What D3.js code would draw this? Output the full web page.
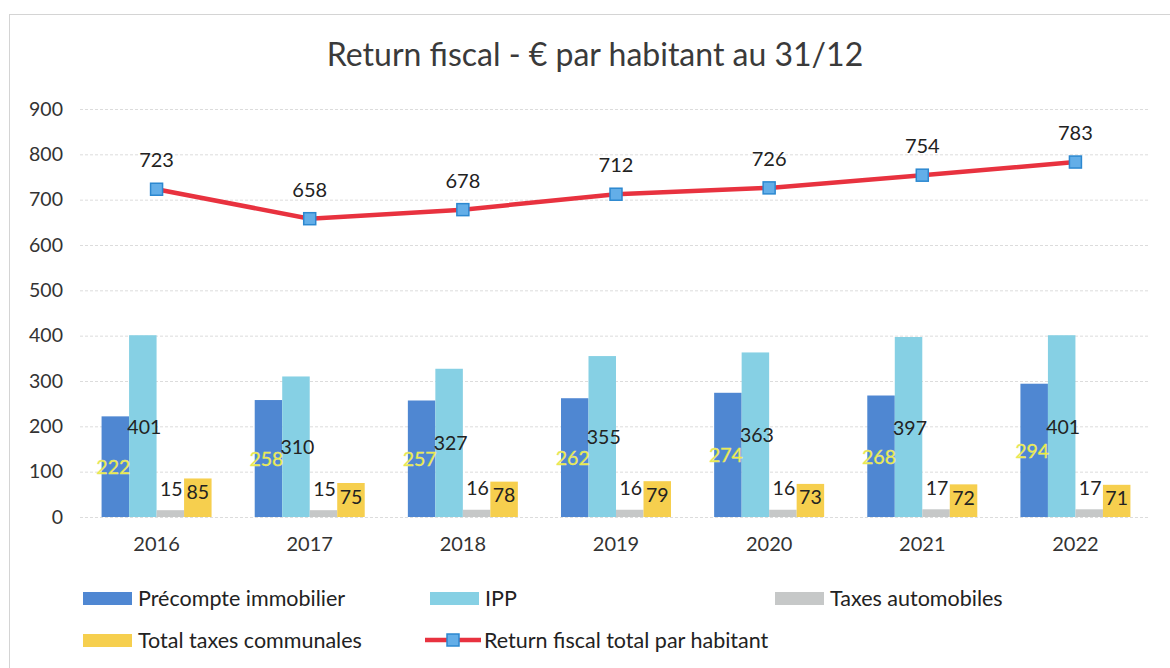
<!DOCTYPE html>
<html><head><meta charset="utf-8">
<script src="https://cdn.jsdelivr.net/npm/d3@7/dist/d3.min.js"></script>
<style>body{margin:0;background:#fff}svg{display:block;font-family:Lato,"Open Sans",sans-serif}</style>
</head><body><svg id="c" width="1170" height="668"></svg>
<script>
const years = ["2016","2017","2018","2019","2020","2021","2022"];
const precompte = [222,258,257,262,274,268,294];
const ipp = [401,310,327,355,363,397,401];
const taxesAuto = [15,15,16,16,16,17,17];
const totalTaxes = [85,75,78,79,73,72,71];
const returnTotal = [723,658,678,712,726,754,783];
const yTicks = [0,100,200,300,400,500,600,700,800,900];
const seriesNames = ["Précompte immobilier","IPP","Taxes automobiles","Total taxes communales"];
const lineName = "Return fiscal total par habitant";
const title = "Return fiscal - € par habitant au 31/12";

const colors = ["#4f87d2","#86d0e4","#c6c8c8","#f6cf4e"];
const svg = d3.select("#c");
// frame
svg.append("rect").attr("x",9.5).attr("y",14.5).attr("width",1200).attr("height",700)
  .attr("fill","none").attr("stroke","#d4d4d4").attr("stroke-width",1);

const y = d3.scaleLinear().domain([0,900]).range([517,109]);
const x = d3.scaleBand().domain(years).range([80,1152]);
const groupW = 110;
const xs = d3.scaleBand().domain(d3.range(4)).range([0,groupW]);

// gridlines
svg.append("g").selectAll("line").data(yTicks).join("line")
  .attr("x1",80).attr("x2",1150).attr("y1",d=>y(d)+0.5).attr("y2",d=>y(d)+0.5)
  .attr("stroke","#dcdcdc").attr("stroke-dasharray","3,2");

// y axis labels
const yAxis = d3.axisLeft(y).tickValues(yTicks).tickSize(0).tickPadding(0);
const gy = svg.append("g").attr("transform","translate(63,0)").call(yAxis);
gy.select(".domain").remove();
gy.selectAll("text").attr("font-size",19.5).attr("fill","#333").attr("font-family","Lato");

// x axis labels
const xAxis = d3.axisBottom(x).tickSize(0).tickPadding(0);
const gx = svg.append("g").attr("transform","translate(0,537)").call(xAxis);
gx.select(".domain").remove();
gx.selectAll("text").attr("font-size",20).attr("fill","#333").attr("font-family","Lato");

const series = [precompte, ipp, taxesAuto, totalTaxes];
const gb = svg.append("g");
series.forEach((vals,si)=>{
  gb.selectAll(null).data(vals).join("rect")
    .attr("x",(d,i)=>x(years[i])+x.bandwidth()/2-groupW/2+xs(si))
    .attr("width",xs.bandwidth())
    .attr("y",d=>y(d)).attr("height",d=>y(0)-y(d))
    .attr("fill",colors[si]);
});
// bar labels
const cx = (i,si)=>x(years[i])+x.bandwidth()/2-groupW/2+xs(si)+xs.bandwidth()/2;
const lab = svg.append("g").attr("font-size",19.5).attr("text-anchor","middle").attr("dominant-baseline","central");
lab.selectAll(null).data(precompte).join("text")
  .attr("x",(d,i)=>cx(i,0)-2).attr("y",d=>(y(d)+y(0))/2)
  .attr("fill","#eeee38").attr("stroke","#e2e29a").attr("stroke-width",0.4).text(d=>d);
lab.selectAll(null).data(ipp).join("text")
  .attr("x",(d,i)=>cx(i,1)+1.5).attr("y",d=>(y(d)+y(0))/2)
  .attr("fill","#222").text(d=>d);
lab.selectAll(null).data(taxesAuto).join("text")
  .attr("x",(d,i)=>cx(i,2)+1).attr("y",d=>y(d)-22)
  .attr("fill","#222").text(d=>d);
lab.selectAll(null).data(totalTaxes).join("text")
  .attr("x",(d,i)=>cx(i,3)).attr("y",d=>y(d)+13)
  .attr("fill","#222").text(d=>d);

// line
const lc = (i)=>x(years[i])+x.bandwidth()/2;
svg.append("path").datum(returnTotal)
  .attr("d",d3.line().x((d,i)=>lc(i)).y(d=>y(d)))
  .attr("fill","none").attr("stroke","#e8323f").attr("stroke-width",4.5);
svg.append("g").selectAll("rect").data(returnTotal).join("rect")
  .attr("x",(d,i)=>lc(i)-6).attr("y",d=>y(d)-6).attr("width",12).attr("height",12)
  .attr("fill","#63aee8").attr("stroke","#2c88d0").attr("stroke-width",1.5);
lab.selectAll(null).data(returnTotal).join("text")
  .attr("x",(d,i)=>lc(i)).attr("y",d=>y(d)-30).attr("font-size",20).attr("fill","#222").text(d=>d);

// title
svg.append("text").attr("x",595).attr("y",66).attr("text-anchor","middle")
  .attr("font-size",32).attr("fill","#3a3a3a").text(title);

// legend
const leg = [
  {t:seriesNames[0],c:colors[0],x:83,y:598},
  {t:seriesNames[1],c:colors[1],x:430,y:598},
  {t:seriesNames[2],c:colors[2],x:775,y:598},
  {t:seriesNames[3],c:colors[3],x:83,y:640}
];
const lg = svg.append("g");
leg.forEach(l=>{
  lg.append("rect").attr("x",l.x).attr("y",l.y-6).attr("width",49).attr("height",13).attr("fill",l.c);
  lg.append("text").attr("x",l.x+55).attr("y",l.y).attr("dominant-baseline","central")
    .attr("font-size",21.5).attr("fill","#222").text(l.t);
});
lg.append("line").attr("x1",425).attr("x2",481).attr("y1",640).attr("y2",640)
  .attr("stroke","#e8323f").attr("stroke-width",4.5);
lg.append("rect").attr("x",447).attr("y",634).attr("width",12).attr("height",12)
  .attr("fill","#63aee8").attr("stroke","#2c88d0").attr("stroke-width",1.5);
lg.append("text").attr("x",484).attr("y",640).attr("dominant-baseline","central")
  .attr("font-size",21.5).attr("fill","#222").text(lineName);
</script></body></html>
